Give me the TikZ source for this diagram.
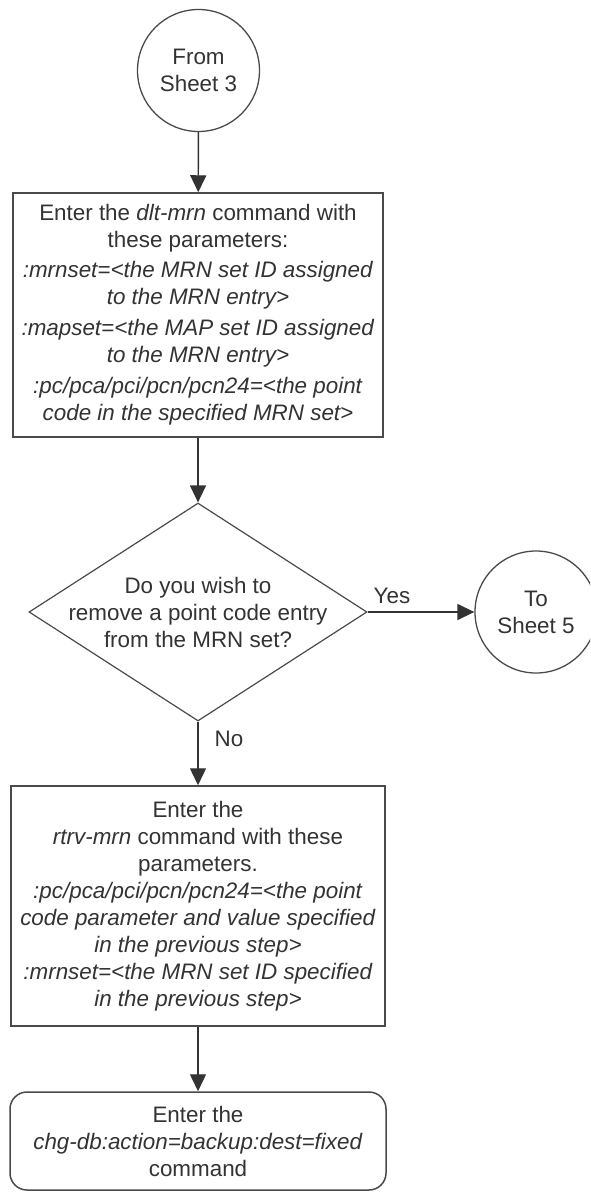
\documentclass[tikz,border=0pt]{standalone}
\usepackage{fontspec}
\setmainfont{Liberation Sans}
\usetikzlibrary{arrows.meta,shapes.geometric}
\definecolor{linec}{HTML}{4A4A4A}
\definecolor{txtc}{HTML}{333333}
\begin{document}
\begin{tikzpicture}[x=1pt,y=-1pt,
  every node/.style={text=txtc, font=\fontsize{22.4}{27}\selectfont},
  conn/.style={circle, draw=linec, line width=1.3pt, minimum size=122pt, inner sep=0pt, align=center},
  stepbox/.style={rectangle, draw=linec, line width=1.5pt, inner sep=0pt, align=center},
  dec/.style={diamond, draw=linec, line width=1.2pt, minimum width=338pt, minimum height=218pt, inner sep=0pt},
  txt/.style={align=center, inner sep=0pt},
  arr/.style={draw=linec, line width=1.4pt, -{Triangle[width=16pt,length=17pt]}, color=black!80}
]
\clip (0,0) rectangle (590,1192);
\fill[white] (0,0) rectangle (590,1192);

\node[conn] (c1) at (198.5,70.5) {From\\Sheet 3};

\node[stepbox, minimum width=370pt, minimum height=244pt] (b1) at (198,315) {};
\node[txt] (t1) at (b1) {Enter the \textit{dlt-mrn} command with\\these parameters:\\[3pt]
\textit{:mrnset=<the MRN set ID assigned}\\\textit{to the MRN entry>}\\[4pt]
\textit{:mapset=<the MAP set ID assigned}\\\textit{to the MRN entry>}\\[4pt]
\textit{:pc/pca/pci/pcn/pcn24=<the point}\\\textit{code in the specified MRN set>}};

\node[dec] (d) at (198,612) {};
\node[txt] (dt) at (d) {Do you wish to\\remove a point code entry\\from the MRN set?};

\node[conn] (c2) at (536,612) {To\\Sheet 5};

\node[stepbox, minimum width=374pt, minimum height=240pt] (b2) at (198,906) {};
\node[txt] (t2) at (b2) {Enter the\\\textit{rtrv-mrn} command with these\\parameters.\\
\textit{:pc/pca/pci/pcn/pcn24=<the point}\\\textit{code parameter and value specified}\\\textit{in the previous step>}\\
\textit{:mrnset=<the MRN set ID specified}\\\textit{in the previous step>}};

\node[stepbox, rounded corners=17pt, minimum width=376pt, minimum height=98pt] (b3) at (198,1141) {};
\node[txt] (t3) at (b3) {Enter the\\\textit{chg-db:action=backup:dest=fixed}\\command};

\draw[arr] (c1) -- (b1);
\draw[arr] (b1) -- (d);
\draw[arr] (d.east) -- (c2);
\draw[arr] (d.south) -- (b2);
\draw[arr] (b2) -- (b3);

\node[txt] (yes) at (392,596) {Yes};
\node[txt] (no) at (229,739) {No};
\end{tikzpicture}
\end{document}
